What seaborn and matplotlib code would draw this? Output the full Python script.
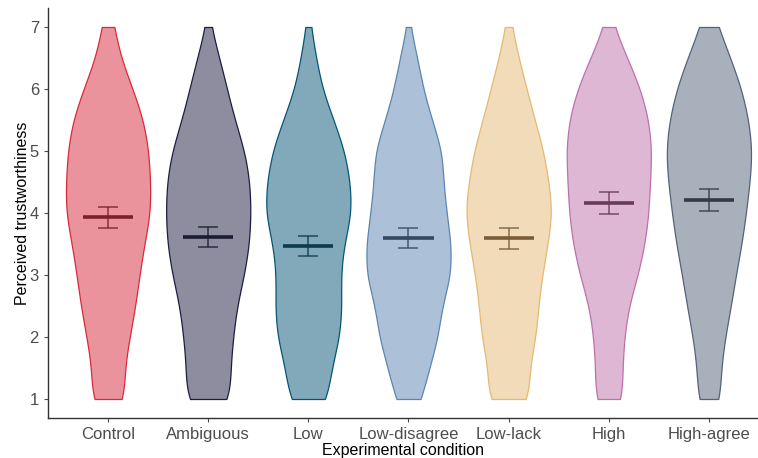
#!/usr/bin/env python3
"""
Perceived trustworthiness by experimental condition (violin + mean/SE)
"""

import numpy as np
import pandas as pd
import matplotlib
matplotlib.use("Agg")
import matplotlib.pyplot as plt
import seaborn as sns

# Conditions in plotting order
conditions = ["Control", "Ambiguous", "Low", "Low-disagree", "Low-lack", "High", "High-agree"]

# Rating levels and estimated response counts per level
levels = [1.0, 1.5, 2.0, 2.5, 3.0, 3.5, 4.0, 4.5, 5.0, 5.5, 6.0, 6.5, 7.0]
counts_control = [34, 31, 42, 53, 61, 70, 83, 82, 79, 69, 48, 24, 12]
counts_ambiguous = [46, 43, 49, 56, 71, 81, 84, 82, 72, 52, 37, 22, 5]
counts_low = [41, 47, 65, 69, 66, 73, 90, 86, 75, 52, 28, 16, 5]
counts_low_disagree = [25, 40, 57, 64, 82, 82, 73, 67, 65, 45, 28, 17, 3]
counts_low_lack = [44, 40, 55, 59, 67, 78, 88, 80, 70, 52, 36, 20, 6]
counts_high = [28, 26, 30, 38, 57, 70, 78, 80, 84, 78, 62, 36, 9]
counts_high_agree = [22, 22, 30, 41, 50, 61, 69, 76, 81, 74, 61, 40, 17]

# Means and standard errors per condition
means = [3.93, 3.61, 3.47, 3.60, 3.59, 4.16, 4.21]
ses = [0.17, 0.16, 0.16, 0.16, 0.17, 0.18, 0.17]

# Colours
fill_colors = ["#d9293d", "#1d1d41", "#055577", "#5b85b1", "#e5b973", "#bd71a9", "#53637b"]
dark_colors = ["#7d1f2f", "#1b1b33", "#0d3a4d", "#34495e", "#7a5c38", "#6a3a5c", "#333b47"]


def build_frame():
    all_counts = [counts_control, counts_ambiguous, counts_low, counts_low_disagree,
                  counts_low_lack, counts_high, counts_high_agree]
    rows = []
    for cond, cnts in zip(conditions, all_counts):
        vals = np.repeat(levels, cnts)
        rows.append(pd.DataFrame({"condition": cond, "trust": vals}))
    return pd.concat(rows, ignore_index=True)


def main():
    df = build_frame()

    sns.set_theme(style="ticks")
    plt.rcParams["font.family"] = ["Liberation Sans", "DejaVu Sans"]

    fig = plt.figure(figsize=(7.58, 4.58), dpi=100)
    ax = fig.add_axes([0.0633, 0.0882, 0.9367, 0.8935])

    sns.violinplot(data=df, x="condition", y="trust", hue="condition",
                   order=conditions, hue_order=conditions,
                   palette=fill_colors, saturation=1, legend=False,
                   inner=None, cut=0, bw_method=0.23, density_norm="width",
                   width=0.84, gridsize=300, linewidth=0.9, ax=ax)

    # soften the fills, keep full-colour outlines
    for coll, col in zip(ax.collections, fill_colors):
        coll.set_facecolor(matplotlib.colors.to_rgba(col, 0.5))
        coll.set_edgecolor(col)
        coll.set_linewidth(0.9)

    # mean bars and standard error whiskers
    for i, (m, s, dc) in enumerate(zip(means, ses, dark_colors)):
        ax.hlines(m, i - 0.25, i + 0.25, color=dc, lw=2.6, zorder=5)
        ax.errorbar(i, m, yerr=s, fmt="none", ecolor=dc, elinewidth=1.2,
                    capsize=7.2, capthick=1.2, alpha=0.8, zorder=6)

    ax.set_xlim(-0.6, 6.49)
    ax.set_ylim(0.7, 7.3)
    ax.set_yticks([1, 2, 3, 4, 5, 6, 7])
    ax.set_xlabel("Experimental condition", fontsize=11.5, color="black", labelpad=1)
    ax.set_ylabel("Perceived trustworthiness", fontsize=11.5, color="black", labelpad=0)
    ax.tick_params(axis="both", labelsize=12, labelcolor="#4d4d4d", color="#4d4d4d",
                   length=3, width=0.8)
    sns.despine(ax=ax)
    for sp in ["left", "bottom"]:
        ax.spines[sp].set_color("#333333")
        ax.spines[sp].set_linewidth(1.0)

    fig.savefig("out.png", dpi=100)
    plt.close(fig)


if __name__ == "__main__":
    main()
